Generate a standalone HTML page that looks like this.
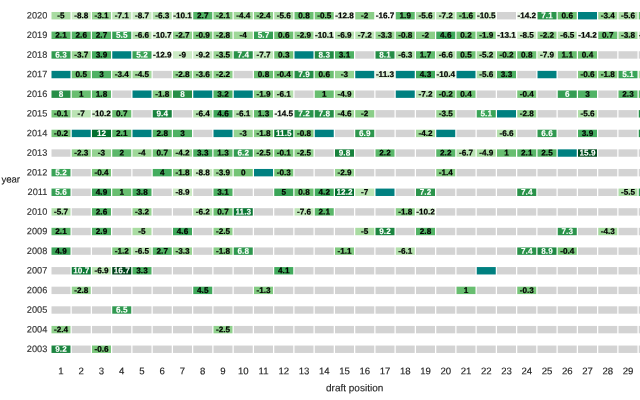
<!DOCTYPE html>
<html><head><meta charset="utf-8"><title>chart</title>
<style>
html,body{margin:0;padding:0;background:#fff;}
body{width:640px;height:400px;overflow:hidden;}
svg{display:block;will-change:transform;}
text{font-family:"Liberation Sans",sans-serif;}
.v{font-weight:bold;font-size:8.2px;text-anchor:middle;fill:#000;stroke:#000;stroke-width:0.2px;}
.w{fill:#fff;stroke:#fff;stroke-width:0.1px;}
.yl{font-size:9.2px;text-anchor:end;fill:#333333;stroke:#333333;stroke-width:0.15px;}
.xl{font-size:9.6px;text-anchor:middle;fill:#262626;stroke:#262626;stroke-width:0.15px;}
.ti{font-size:10.0px;fill:#222222;stroke:#222222;stroke-width:0.12px;}
.g{fill:#d3d3d3;}
.t{fill:#008080;}
</style></head><body>
<svg width="640" height="400" viewBox="0 0 640 400">
<rect x="0" y="0" width="640" height="400" fill="#ffffff"/>

<rect fill="#a9dca2" x="51.50" y="12.00" width="19" height="7.4"/>
<rect fill="#caeac3" x="71.75" y="12.00" width="19" height="7.4"/>
<rect fill="#95d491" x="92.00" y="12.00" width="19" height="7.4"/>
<rect fill="#bce4b5" x="112.25" y="12.00" width="19" height="7.4"/>
<rect fill="#caeac3" x="132.50" y="12.00" width="19" height="7.4"/>
<rect fill="#b4e1ae" x="152.75" y="12.00" width="19" height="7.4"/>
<rect fill="#d4eecd" x="173.00" y="12.00" width="19" height="7.4"/>
<rect fill="#53b466" x="193.25" y="12.00" width="19" height="7.4"/>
<rect fill="#8bcf89" x="213.50" y="12.00" width="19" height="7.4"/>
<rect fill="#a3da9d" x="233.75" y="12.00" width="19" height="7.4"/>
<rect fill="#8ed08b" x="254.00" y="12.00" width="19" height="7.4"/>
<rect fill="#aedea8" x="274.25" y="12.00" width="19" height="7.4"/>
<rect fill="#6abf71" x="294.50" y="12.00" width="19" height="7.4"/>
<rect fill="#79c77a" x="314.75" y="12.00" width="19" height="7.4"/>
<rect fill="#e6f5e1" x="335.00" y="12.00" width="19" height="7.4"/>
<rect fill="#8ace88" x="355.25" y="12.00" width="19" height="7.4"/>
<rect fill="#f7fcf5" x="375.50" y="12.00" width="19" height="7.4"/>
<rect fill="#5db96b" x="395.75" y="12.00" width="19" height="7.4"/>
<rect fill="#aedea8" x="416.00" y="12.00" width="19" height="7.4"/>
<rect fill="#bde5b6" x="436.25" y="12.00" width="19" height="7.4"/>
<rect fill="#85cc84" x="456.50" y="12.00" width="19" height="7.4"/>
<rect fill="#d6efd0" x="476.75" y="12.00" width="19" height="7.4"/>
<rect class="g" x="497.00" y="12.00" width="19" height="7.4"/>
<rect fill="#ecf8e8" x="517.25" y="12.00" width="19" height="7.4"/>
<rect fill="#2c954c" x="537.50" y="12.00" width="19" height="7.4"/>
<rect fill="#6dc072" x="557.75" y="12.00" width="19" height="7.4"/>
<rect class="t" x="578.00" y="12.00" width="19" height="7.4"/>
<rect fill="#99d594" x="598.25" y="12.00" width="19" height="7.4"/>
<rect fill="#aedea8" x="618.50" y="12.00" width="19" height="7.4"/>
<rect fill="#68be70" x="638.75" y="12.00" width="19" height="7.4"/>
<rect fill="#5ab769" x="51.50" y="31.62" width="19" height="7.4"/>
<rect fill="#54b466" x="71.75" y="31.62" width="19" height="7.4"/>
<rect fill="#53b466" x="92.00" y="31.62" width="19" height="7.4"/>
<rect fill="#37a155" x="112.25" y="31.62" width="19" height="7.4"/>
<rect fill="#b7e2b0" x="132.50" y="31.62" width="19" height="7.4"/>
<rect fill="#d8f0d2" x="152.75" y="31.62" width="19" height="7.4"/>
<rect fill="#91d28e" x="173.00" y="31.62" width="19" height="7.4"/>
<rect fill="#7ec97e" x="193.25" y="31.62" width="19" height="7.4"/>
<rect fill="#92d28f" x="213.50" y="31.62" width="19" height="7.4"/>
<rect fill="#9fd899" x="233.75" y="31.62" width="19" height="7.4"/>
<rect fill="#369f54" x="254.00" y="31.62" width="19" height="7.4"/>
<rect fill="#6dc072" x="274.25" y="31.62" width="19" height="7.4"/>
<rect fill="#93d390" x="294.50" y="31.62" width="19" height="7.4"/>
<rect fill="#d4eecd" x="314.75" y="31.62" width="19" height="7.4"/>
<rect fill="#bae3b3" x="335.00" y="31.62" width="19" height="7.4"/>
<rect fill="#bde5b6" x="355.25" y="31.62" width="19" height="7.4"/>
<rect fill="#98d593" x="375.50" y="31.62" width="19" height="7.4"/>
<rect fill="#7dc87d" x="395.75" y="31.62" width="19" height="7.4"/>
<rect fill="#8ace88" x="416.00" y="31.62" width="19" height="7.4"/>
<rect fill="#3ea85b" x="436.25" y="31.62" width="19" height="7.4"/>
<rect fill="#72c375" x="456.50" y="31.62" width="19" height="7.4"/>
<rect fill="#88ce87" x="476.75" y="31.62" width="19" height="7.4"/>
<rect fill="#e7f6e3" x="497.00" y="31.62" width="19" height="7.4"/>
<rect fill="#c8e9c1" x="517.25" y="31.62" width="19" height="7.4"/>
<rect fill="#8ccf89" x="537.50" y="31.62" width="19" height="7.4"/>
<rect fill="#b6e2b0" x="557.75" y="31.62" width="19" height="7.4"/>
<rect fill="#ecf8e8" x="578.00" y="31.62" width="19" height="7.4"/>
<rect fill="#6bc072" x="598.25" y="31.62" width="19" height="7.4"/>
<rect fill="#9dd798" x="618.50" y="31.62" width="19" height="7.4"/>
<rect fill="#d6efd0" x="638.75" y="31.62" width="19" height="7.4"/>
<rect fill="#329b51" x="51.50" y="51.24" width="19" height="7.4"/>
<rect fill="#9cd797" x="71.75" y="51.24" width="19" height="7.4"/>
<rect fill="#44ad5f" x="92.00" y="51.24" width="19" height="7.4"/>
<rect class="t" x="112.25" y="51.24" width="19" height="7.4"/>
<rect fill="#3aa357" x="132.50" y="51.24" width="19" height="7.4"/>
<rect fill="#e7f6e2" x="152.75" y="51.24" width="19" height="7.4"/>
<rect fill="#ccebc5" x="173.00" y="51.24" width="19" height="7.4"/>
<rect fill="#cdebc7" x="193.25" y="51.24" width="19" height="7.4"/>
<rect fill="#9ad695" x="213.50" y="51.24" width="19" height="7.4"/>
<rect fill="#2a924a" x="233.75" y="51.24" width="19" height="7.4"/>
<rect fill="#c1e7ba" x="254.00" y="51.24" width="19" height="7.4"/>
<rect fill="#70c274" x="274.25" y="51.24" width="19" height="7.4"/>
<rect class="t" x="294.50" y="51.24" width="19" height="7.4"/>
<rect fill="#238b45" x="314.75" y="51.24" width="19" height="7.4"/>
<rect fill="#4eb163" x="335.00" y="51.24" width="19" height="7.4"/>
<rect class="g" x="355.25" y="51.24" width="19" height="7.4"/>
<rect fill="#258d46" x="375.50" y="51.24" width="19" height="7.4"/>
<rect fill="#b4e1ae" x="395.75" y="51.24" width="19" height="7.4"/>
<rect fill="#5fba6c" x="416.00" y="51.24" width="19" height="7.4"/>
<rect fill="#b7e2b0" x="436.25" y="51.24" width="19" height="7.4"/>
<rect fill="#6ec173" x="456.50" y="51.24" width="19" height="7.4"/>
<rect fill="#aadda4" x="476.75" y="51.24" width="19" height="7.4"/>
<rect fill="#76c578" x="497.00" y="51.24" width="19" height="7.4"/>
<rect fill="#6abf71" x="517.25" y="51.24" width="19" height="7.4"/>
<rect fill="#c3e7bc" x="537.50" y="51.24" width="19" height="7.4"/>
<rect fill="#67bd6f" x="557.75" y="51.24" width="19" height="7.4"/>
<rect fill="#6fc274" x="578.00" y="51.24" width="19" height="7.4"/>
<rect class="g" x="598.25" y="51.24" width="19" height="7.4"/>
<rect class="g" x="618.50" y="51.24" width="19" height="7.4"/>
<rect class="g" x="638.75" y="51.24" width="19" height="7.4"/>
<rect class="t" x="51.50" y="70.86" width="19" height="7.4"/>
<rect fill="#6ec173" x="71.75" y="70.86" width="19" height="7.4"/>
<rect fill="#4fb264" x="92.00" y="70.86" width="19" height="7.4"/>
<rect fill="#99d594" x="112.25" y="70.86" width="19" height="7.4"/>
<rect fill="#a4da9e" x="132.50" y="70.86" width="19" height="7.4"/>
<rect class="g" x="152.75" y="70.86" width="19" height="7.4"/>
<rect fill="#92d28f" x="173.00" y="70.86" width="19" height="7.4"/>
<rect fill="#9bd696" x="193.25" y="70.86" width="19" height="7.4"/>
<rect fill="#8ccf89" x="213.50" y="70.86" width="19" height="7.4"/>
<rect class="g" x="233.75" y="70.86" width="19" height="7.4"/>
<rect fill="#6abf71" x="254.00" y="70.86" width="19" height="7.4"/>
<rect fill="#78c67a" x="274.25" y="70.86" width="19" height="7.4"/>
<rect fill="#268e48" x="294.50" y="70.86" width="19" height="7.4"/>
<rect fill="#6dc072" x="314.75" y="70.86" width="19" height="7.4"/>
<rect fill="#94d391" x="335.00" y="70.86" width="19" height="7.4"/>
<rect class="t" x="355.25" y="70.86" width="19" height="7.4"/>
<rect fill="#dcf1d7" x="375.50" y="70.86" width="19" height="7.4"/>
<rect class="t" x="395.75" y="70.86" width="19" height="7.4"/>
<rect fill="#40aa5c" x="416.00" y="70.86" width="19" height="7.4"/>
<rect fill="#d6efd0" x="436.25" y="70.86" width="19" height="7.4"/>
<rect class="t" x="456.50" y="70.86" width="19" height="7.4"/>
<rect fill="#aedea8" x="476.75" y="70.86" width="19" height="7.4"/>
<rect fill="#4cb062" x="497.00" y="70.86" width="19" height="7.4"/>
<rect class="g" x="517.25" y="70.86" width="19" height="7.4"/>
<rect class="t" x="537.50" y="70.86" width="19" height="7.4"/>
<rect class="g" x="557.75" y="70.86" width="19" height="7.4"/>
<rect fill="#7ac77b" x="578.00" y="70.86" width="19" height="7.4"/>
<rect fill="#87cd86" x="598.25" y="70.86" width="19" height="7.4"/>
<rect fill="#3aa458" x="618.50" y="70.86" width="19" height="7.4"/>
<rect fill="#a9dca2" x="638.75" y="70.86" width="19" height="7.4"/>
<rect fill="#268e47" x="51.50" y="90.48" width="19" height="7.4"/>
<rect fill="#68be70" x="71.75" y="90.48" width="19" height="7.4"/>
<rect fill="#5eb96b" x="92.00" y="90.48" width="19" height="7.4"/>
<rect class="g" x="112.25" y="90.48" width="19" height="7.4"/>
<rect class="t" x="132.50" y="90.48" width="19" height="7.4"/>
<rect fill="#87cd86" x="152.75" y="90.48" width="19" height="7.4"/>
<rect fill="#268e47" x="173.00" y="90.48" width="19" height="7.4"/>
<rect class="t" x="193.25" y="90.48" width="19" height="7.4"/>
<rect fill="#4db163" x="213.50" y="90.48" width="19" height="7.4"/>
<rect class="t" x="233.75" y="90.48" width="19" height="7.4"/>
<rect fill="#88ce87" x="254.00" y="90.48" width="19" height="7.4"/>
<rect fill="#b3e0ac" x="274.25" y="90.48" width="19" height="7.4"/>
<rect class="g" x="294.50" y="90.48" width="19" height="7.4"/>
<rect fill="#68be70" x="314.75" y="90.48" width="19" height="7.4"/>
<rect fill="#a8dca1" x="335.00" y="90.48" width="19" height="7.4"/>
<rect class="g" x="355.25" y="90.48" width="19" height="7.4"/>
<rect class="g" x="375.50" y="90.48" width="19" height="7.4"/>
<rect class="t" x="395.75" y="90.48" width="19" height="7.4"/>
<rect fill="#bde5b6" x="416.00" y="90.48" width="19" height="7.4"/>
<rect fill="#76c578" x="436.25" y="90.48" width="19" height="7.4"/>
<rect fill="#6fc274" x="456.50" y="90.48" width="19" height="7.4"/>
<rect class="g" x="476.75" y="90.48" width="19" height="7.4"/>
<rect class="g" x="497.00" y="90.48" width="19" height="7.4"/>
<rect fill="#78c67a" x="517.25" y="90.48" width="19" height="7.4"/>
<rect class="g" x="537.50" y="90.48" width="19" height="7.4"/>
<rect fill="#349d53" x="557.75" y="90.48" width="19" height="7.4"/>
<rect fill="#4fb264" x="578.00" y="90.48" width="19" height="7.4"/>
<rect class="g" x="598.25" y="90.48" width="19" height="7.4"/>
<rect fill="#58b668" x="618.50" y="90.48" width="19" height="7.4"/>
<rect fill="#5cb86a" x="638.75" y="90.48" width="19" height="7.4"/>
<rect fill="#75c577" x="51.50" y="110.10" width="19" height="7.4"/>
<rect fill="#bbe4b4" x="71.75" y="110.10" width="19" height="7.4"/>
<rect fill="#d4eece" x="92.00" y="110.10" width="19" height="7.4"/>
<rect fill="#6bc072" x="112.25" y="110.10" width="19" height="7.4"/>
<rect class="g" x="132.50" y="110.10" width="19" height="7.4"/>
<rect fill="#1a833f" x="152.75" y="110.10" width="19" height="7.4"/>
<rect class="g" x="173.00" y="110.10" width="19" height="7.4"/>
<rect fill="#b5e2af" x="193.25" y="110.10" width="19" height="7.4"/>
<rect fill="#3ea85b" x="213.50" y="110.10" width="19" height="7.4"/>
<rect fill="#b3e0ac" x="233.75" y="110.10" width="19" height="7.4"/>
<rect fill="#64bc6e" x="254.00" y="110.10" width="19" height="7.4"/>
<rect fill="#eef8ea" x="274.25" y="110.10" width="19" height="7.4"/>
<rect fill="#2b944c" x="294.50" y="110.10" width="19" height="7.4"/>
<rect fill="#278f48" x="314.75" y="110.10" width="19" height="7.4"/>
<rect fill="#a5db9f" x="335.00" y="110.10" width="19" height="7.4"/>
<rect fill="#8ace88" x="355.25" y="110.10" width="19" height="7.4"/>
<rect class="g" x="375.50" y="110.10" width="19" height="7.4"/>
<rect class="g" x="395.75" y="110.10" width="19" height="7.4"/>
<rect class="g" x="416.00" y="110.10" width="19" height="7.4"/>
<rect fill="#9ad695" x="436.25" y="110.10" width="19" height="7.4"/>
<rect class="g" x="456.50" y="110.10" width="19" height="7.4"/>
<rect fill="#3aa458" x="476.75" y="110.10" width="19" height="7.4"/>
<rect class="t" x="497.00" y="110.10" width="19" height="7.4"/>
<rect fill="#92d28f" x="517.25" y="110.10" width="19" height="7.4"/>
<rect class="g" x="537.50" y="110.10" width="19" height="7.4"/>
<rect class="g" x="557.75" y="110.10" width="19" height="7.4"/>
<rect fill="#aedea8" x="578.00" y="110.10" width="19" height="7.4"/>
<rect class="g" x="598.25" y="110.10" width="19" height="7.4"/>
<rect class="g" x="618.50" y="110.10" width="19" height="7.4"/>
<rect fill="#268e47" x="638.75" y="110.10" width="19" height="7.4"/>
<rect fill="#76c578" x="51.50" y="129.72" width="19" height="7.4"/>
<rect class="t" x="71.75" y="129.72" width="19" height="7.4"/>
<rect fill="#04712f" x="92.00" y="129.72" width="19" height="7.4"/>
<rect fill="#5ab769" x="112.25" y="129.72" width="19" height="7.4"/>
<rect class="t" x="132.50" y="129.72" width="19" height="7.4"/>
<rect fill="#52b365" x="152.75" y="129.72" width="19" height="7.4"/>
<rect fill="#4fb264" x="173.00" y="129.72" width="19" height="7.4"/>
<rect class="g" x="193.25" y="129.72" width="19" height="7.4"/>
<rect class="t" x="213.50" y="129.72" width="19" height="7.4"/>
<rect fill="#94d391" x="233.75" y="129.72" width="19" height="7.4"/>
<rect fill="#87cd86" x="254.00" y="129.72" width="19" height="7.4"/>
<rect fill="#097432" x="274.25" y="129.72" width="19" height="7.4"/>
<rect fill="#7dc87d" x="294.50" y="129.72" width="19" height="7.4"/>
<rect class="t" x="314.75" y="129.72" width="19" height="7.4"/>
<rect class="g" x="335.00" y="129.72" width="19" height="7.4"/>
<rect fill="#2d964d" x="355.25" y="129.72" width="19" height="7.4"/>
<rect class="g" x="375.50" y="129.72" width="19" height="7.4"/>
<rect class="g" x="395.75" y="129.72" width="19" height="7.4"/>
<rect fill="#a1d99b" x="416.00" y="129.72" width="19" height="7.4"/>
<rect class="t" x="436.25" y="129.72" width="19" height="7.4"/>
<rect class="g" x="456.50" y="129.72" width="19" height="7.4"/>
<rect class="g" x="476.75" y="129.72" width="19" height="7.4"/>
<rect fill="#b7e2b0" x="497.00" y="129.72" width="19" height="7.4"/>
<rect class="g" x="517.25" y="129.72" width="19" height="7.4"/>
<rect fill="#30984f" x="537.50" y="129.72" width="19" height="7.4"/>
<rect class="g" x="557.75" y="129.72" width="19" height="7.4"/>
<rect fill="#44ad5f" x="578.00" y="129.72" width="19" height="7.4"/>
<rect class="g" x="598.25" y="129.72" width="19" height="7.4"/>
<rect class="g" x="618.50" y="129.72" width="19" height="7.4"/>
<rect fill="#268e47" x="638.75" y="129.72" width="19" height="7.4"/>
<rect class="g" x="51.50" y="149.34" width="19" height="7.4"/>
<rect fill="#8dd08a" x="71.75" y="149.34" width="19" height="7.4"/>
<rect fill="#94d391" x="92.00" y="149.34" width="19" height="7.4"/>
<rect fill="#5cb86a" x="112.25" y="149.34" width="19" height="7.4"/>
<rect fill="#9fd899" x="132.50" y="149.34" width="19" height="7.4"/>
<rect fill="#6bc072" x="152.75" y="149.34" width="19" height="7.4"/>
<rect fill="#a1d99b" x="173.00" y="149.34" width="19" height="7.4"/>
<rect fill="#4cb062" x="193.25" y="149.34" width="19" height="7.4"/>
<rect fill="#64bc6e" x="213.50" y="149.34" width="19" height="7.4"/>
<rect fill="#329b51" x="233.75" y="149.34" width="19" height="7.4"/>
<rect fill="#8fd18c" x="254.00" y="149.34" width="19" height="7.4"/>
<rect fill="#75c577" x="274.25" y="149.34" width="19" height="7.4"/>
<rect fill="#8fd18c" x="294.50" y="149.34" width="19" height="7.4"/>
<rect class="g" x="314.75" y="149.34" width="19" height="7.4"/>
<rect fill="#17813c" x="335.00" y="149.34" width="19" height="7.4"/>
<rect class="g" x="355.25" y="149.34" width="19" height="7.4"/>
<rect fill="#59b769" x="375.50" y="149.34" width="19" height="7.4"/>
<rect class="g" x="395.75" y="149.34" width="19" height="7.4"/>
<rect class="g" x="416.00" y="149.34" width="19" height="7.4"/>
<rect fill="#59b769" x="436.25" y="149.34" width="19" height="7.4"/>
<rect fill="#b8e3b1" x="456.50" y="149.34" width="19" height="7.4"/>
<rect fill="#a8dca1" x="476.75" y="149.34" width="19" height="7.4"/>
<rect fill="#68be70" x="497.00" y="149.34" width="19" height="7.4"/>
<rect fill="#5ab769" x="517.25" y="149.34" width="19" height="7.4"/>
<rect fill="#55b567" x="537.50" y="149.34" width="19" height="7.4"/>
<rect class="t" x="557.75" y="149.34" width="19" height="7.4"/>
<rect fill="#004c1e" x="578.00" y="149.34" width="19" height="7.4"/>
<rect class="g" x="598.25" y="149.34" width="19" height="7.4"/>
<rect class="g" x="618.50" y="149.34" width="19" height="7.4"/>
<rect class="g" x="638.75" y="149.34" width="19" height="7.4"/>
<rect fill="#3aa357" x="51.50" y="168.96" width="19" height="7.4"/>
<rect class="g" x="71.75" y="168.96" width="19" height="7.4"/>
<rect fill="#78c67a" x="92.00" y="168.96" width="19" height="7.4"/>
<rect class="g" x="112.25" y="168.96" width="19" height="7.4"/>
<rect class="g" x="132.50" y="168.96" width="19" height="7.4"/>
<rect fill="#43ac5e" x="152.75" y="168.96" width="19" height="7.4"/>
<rect fill="#87cd86" x="173.00" y="168.96" width="19" height="7.4"/>
<rect fill="#caeac3" x="193.25" y="168.96" width="19" height="7.4"/>
<rect fill="#9ed899" x="213.50" y="168.96" width="19" height="7.4"/>
<rect fill="#74c476" x="233.75" y="168.96" width="19" height="7.4"/>
<rect class="t" x="254.00" y="168.96" width="19" height="7.4"/>
<rect fill="#77c679" x="274.25" y="168.96" width="19" height="7.4"/>
<rect class="g" x="294.50" y="168.96" width="19" height="7.4"/>
<rect class="g" x="314.75" y="168.96" width="19" height="7.4"/>
<rect fill="#93d390" x="335.00" y="168.96" width="19" height="7.4"/>
<rect class="g" x="355.25" y="168.96" width="19" height="7.4"/>
<rect class="g" x="375.50" y="168.96" width="19" height="7.4"/>
<rect class="g" x="395.75" y="168.96" width="19" height="7.4"/>
<rect class="g" x="416.00" y="168.96" width="19" height="7.4"/>
<rect fill="#83cb82" x="436.25" y="168.96" width="19" height="7.4"/>
<rect class="g" x="456.50" y="168.96" width="19" height="7.4"/>
<rect class="g" x="476.75" y="168.96" width="19" height="7.4"/>
<rect class="g" x="497.00" y="168.96" width="19" height="7.4"/>
<rect class="g" x="517.25" y="168.96" width="19" height="7.4"/>
<rect class="g" x="537.50" y="168.96" width="19" height="7.4"/>
<rect class="g" x="557.75" y="168.96" width="19" height="7.4"/>
<rect class="g" x="578.00" y="168.96" width="19" height="7.4"/>
<rect class="g" x="598.25" y="168.96" width="19" height="7.4"/>
<rect class="g" x="618.50" y="168.96" width="19" height="7.4"/>
<rect class="g" x="638.75" y="168.96" width="19" height="7.4"/>
<rect fill="#37a055" x="51.50" y="188.58" width="19" height="7.4"/>
<rect class="g" x="71.75" y="188.58" width="19" height="7.4"/>
<rect fill="#3ca559" x="92.00" y="188.58" width="19" height="7.4"/>
<rect fill="#68be70" x="112.25" y="188.58" width="19" height="7.4"/>
<rect fill="#46ad5f" x="132.50" y="188.58" width="19" height="7.4"/>
<rect class="g" x="152.75" y="188.58" width="19" height="7.4"/>
<rect fill="#cbebc4" x="173.00" y="188.58" width="19" height="7.4"/>
<rect class="g" x="193.25" y="188.58" width="19" height="7.4"/>
<rect fill="#4eb163" x="213.50" y="188.58" width="19" height="7.4"/>
<rect class="g" x="233.75" y="188.58" width="19" height="7.4"/>
<rect class="g" x="254.00" y="188.58" width="19" height="7.4"/>
<rect fill="#3ba558" x="274.25" y="188.58" width="19" height="7.4"/>
<rect fill="#6abf71" x="294.50" y="188.58" width="19" height="7.4"/>
<rect fill="#41ab5d" x="314.75" y="188.58" width="19" height="7.4"/>
<rect fill="#036f2e" x="335.00" y="188.58" width="19" height="7.4"/>
<rect fill="#bbe4b4" x="355.25" y="188.58" width="19" height="7.4"/>
<rect class="t" x="375.50" y="188.58" width="19" height="7.4"/>
<rect class="g" x="395.75" y="188.58" width="19" height="7.4"/>
<rect fill="#2b944c" x="416.00" y="188.58" width="19" height="7.4"/>
<rect class="g" x="436.25" y="188.58" width="19" height="7.4"/>
<rect class="g" x="456.50" y="188.58" width="19" height="7.4"/>
<rect class="g" x="476.75" y="188.58" width="19" height="7.4"/>
<rect class="g" x="497.00" y="188.58" width="19" height="7.4"/>
<rect fill="#2a924a" x="517.25" y="188.58" width="19" height="7.4"/>
<rect class="g" x="537.50" y="188.58" width="19" height="7.4"/>
<rect class="g" x="557.75" y="188.58" width="19" height="7.4"/>
<rect class="g" x="578.00" y="188.58" width="19" height="7.4"/>
<rect class="g" x="598.25" y="188.58" width="19" height="7.4"/>
<rect fill="#addea7" x="618.50" y="188.58" width="19" height="7.4"/>
<rect fill="#349d53" x="638.75" y="188.58" width="19" height="7.4"/>
<rect fill="#afdfa9" x="51.50" y="208.20" width="19" height="7.4"/>
<rect class="g" x="71.75" y="208.20" width="19" height="7.4"/>
<rect fill="#54b466" x="92.00" y="208.20" width="19" height="7.4"/>
<rect class="g" x="112.25" y="208.20" width="19" height="7.4"/>
<rect fill="#96d492" x="132.50" y="208.20" width="19" height="7.4"/>
<rect class="g" x="152.75" y="208.20" width="19" height="7.4"/>
<rect class="g" x="173.00" y="208.20" width="19" height="7.4"/>
<rect fill="#b3e1ad" x="193.25" y="208.20" width="19" height="7.4"/>
<rect fill="#6bc072" x="213.50" y="208.20" width="19" height="7.4"/>
<rect fill="#0a7633" x="233.75" y="208.20" width="19" height="7.4"/>
<rect class="g" x="254.00" y="208.20" width="19" height="7.4"/>
<rect class="g" x="274.25" y="208.20" width="19" height="7.4"/>
<rect fill="#c0e6b9" x="294.50" y="208.20" width="19" height="7.4"/>
<rect fill="#5ab769" x="314.75" y="208.20" width="19" height="7.4"/>
<rect class="g" x="335.00" y="208.20" width="19" height="7.4"/>
<rect class="g" x="355.25" y="208.20" width="19" height="7.4"/>
<rect class="g" x="375.50" y="208.20" width="19" height="7.4"/>
<rect fill="#87cd86" x="395.75" y="208.20" width="19" height="7.4"/>
<rect fill="#d4eece" x="416.00" y="208.20" width="19" height="7.4"/>
<rect class="g" x="436.25" y="208.20" width="19" height="7.4"/>
<rect class="g" x="456.50" y="208.20" width="19" height="7.4"/>
<rect class="g" x="476.75" y="208.20" width="19" height="7.4"/>
<rect class="g" x="497.00" y="208.20" width="19" height="7.4"/>
<rect class="g" x="517.25" y="208.20" width="19" height="7.4"/>
<rect class="g" x="537.50" y="208.20" width="19" height="7.4"/>
<rect class="g" x="557.75" y="208.20" width="19" height="7.4"/>
<rect class="g" x="578.00" y="208.20" width="19" height="7.4"/>
<rect class="g" x="598.25" y="208.20" width="19" height="7.4"/>
<rect class="g" x="618.50" y="208.20" width="19" height="7.4"/>
<rect class="g" x="638.75" y="208.20" width="19" height="7.4"/>
<rect fill="#5ab769" x="51.50" y="227.82" width="19" height="7.4"/>
<rect class="g" x="71.75" y="227.82" width="19" height="7.4"/>
<rect fill="#51b365" x="92.00" y="227.82" width="19" height="7.4"/>
<rect class="g" x="112.25" y="227.82" width="19" height="7.4"/>
<rect fill="#a9dca2" x="132.50" y="227.82" width="19" height="7.4"/>
<rect class="g" x="152.75" y="227.82" width="19" height="7.4"/>
<rect fill="#3ea85b" x="173.00" y="227.82" width="19" height="7.4"/>
<rect class="g" x="193.25" y="227.82" width="19" height="7.4"/>
<rect fill="#8fd18c" x="213.50" y="227.82" width="19" height="7.4"/>
<rect class="g" x="233.75" y="227.82" width="19" height="7.4"/>
<rect class="g" x="254.00" y="227.82" width="19" height="7.4"/>
<rect class="g" x="274.25" y="227.82" width="19" height="7.4"/>
<rect class="g" x="294.50" y="227.82" width="19" height="7.4"/>
<rect class="g" x="314.75" y="227.82" width="19" height="7.4"/>
<rect class="g" x="335.00" y="227.82" width="19" height="7.4"/>
<rect fill="#a9dca2" x="355.25" y="227.82" width="19" height="7.4"/>
<rect fill="#1c8540" x="375.50" y="227.82" width="19" height="7.4"/>
<rect class="g" x="395.75" y="227.82" width="19" height="7.4"/>
<rect fill="#52b365" x="416.00" y="227.82" width="19" height="7.4"/>
<rect class="g" x="436.25" y="227.82" width="19" height="7.4"/>
<rect class="g" x="456.50" y="227.82" width="19" height="7.4"/>
<rect class="g" x="476.75" y="227.82" width="19" height="7.4"/>
<rect class="g" x="497.00" y="227.82" width="19" height="7.4"/>
<rect class="g" x="517.25" y="227.82" width="19" height="7.4"/>
<rect class="g" x="537.50" y="227.82" width="19" height="7.4"/>
<rect fill="#2b934b" x="557.75" y="227.82" width="19" height="7.4"/>
<rect class="g" x="578.00" y="227.82" width="19" height="7.4"/>
<rect fill="#a2d99c" x="598.25" y="227.82" width="19" height="7.4"/>
<rect class="g" x="618.50" y="227.82" width="19" height="7.4"/>
<rect class="g" x="638.75" y="227.82" width="19" height="7.4"/>
<rect fill="#3ca559" x="51.50" y="247.44" width="19" height="7.4"/>
<rect class="g" x="71.75" y="247.44" width="19" height="7.4"/>
<rect class="g" x="92.00" y="247.44" width="19" height="7.4"/>
<rect fill="#81ca81" x="112.25" y="247.44" width="19" height="7.4"/>
<rect fill="#b6e2b0" x="132.50" y="247.44" width="19" height="7.4"/>
<rect fill="#53b466" x="152.75" y="247.44" width="19" height="7.4"/>
<rect fill="#98d593" x="173.00" y="247.44" width="19" height="7.4"/>
<rect class="g" x="193.25" y="247.44" width="19" height="7.4"/>
<rect fill="#87cd86" x="213.50" y="247.44" width="19" height="7.4"/>
<rect fill="#2e974e" x="233.75" y="247.44" width="19" height="7.4"/>
<rect class="g" x="254.00" y="247.44" width="19" height="7.4"/>
<rect class="g" x="274.25" y="247.44" width="19" height="7.4"/>
<rect class="g" x="294.50" y="247.44" width="19" height="7.4"/>
<rect class="g" x="314.75" y="247.44" width="19" height="7.4"/>
<rect fill="#80ca80" x="335.00" y="247.44" width="19" height="7.4"/>
<rect class="g" x="355.25" y="247.44" width="19" height="7.4"/>
<rect class="g" x="375.50" y="247.44" width="19" height="7.4"/>
<rect fill="#b3e0ac" x="395.75" y="247.44" width="19" height="7.4"/>
<rect class="g" x="416.00" y="247.44" width="19" height="7.4"/>
<rect class="g" x="436.25" y="247.44" width="19" height="7.4"/>
<rect class="g" x="456.50" y="247.44" width="19" height="7.4"/>
<rect class="g" x="476.75" y="247.44" width="19" height="7.4"/>
<rect class="g" x="497.00" y="247.44" width="19" height="7.4"/>
<rect fill="#2a924a" x="517.25" y="247.44" width="19" height="7.4"/>
<rect fill="#1e8742" x="537.50" y="247.44" width="19" height="7.4"/>
<rect fill="#78c67a" x="557.75" y="247.44" width="19" height="7.4"/>
<rect class="g" x="578.00" y="247.44" width="19" height="7.4"/>
<rect class="g" x="598.25" y="247.44" width="19" height="7.4"/>
<rect class="g" x="618.50" y="247.44" width="19" height="7.4"/>
<rect class="g" x="638.75" y="247.44" width="19" height="7.4"/>
<rect class="g" x="51.50" y="267.06" width="19" height="7.4"/>
<rect fill="#0f7a37" x="71.75" y="267.06" width="19" height="7.4"/>
<rect fill="#bae3b3" x="92.00" y="267.06" width="19" height="7.4"/>
<rect fill="#00441b" x="112.25" y="267.06" width="19" height="7.4"/>
<rect fill="#4cb062" x="132.50" y="267.06" width="19" height="7.4"/>
<rect class="g" x="152.75" y="267.06" width="19" height="7.4"/>
<rect class="g" x="173.00" y="267.06" width="19" height="7.4"/>
<rect class="g" x="193.25" y="267.06" width="19" height="7.4"/>
<rect class="g" x="213.50" y="267.06" width="19" height="7.4"/>
<rect class="g" x="233.75" y="267.06" width="19" height="7.4"/>
<rect class="g" x="254.00" y="267.06" width="19" height="7.4"/>
<rect fill="#42ab5d" x="274.25" y="267.06" width="19" height="7.4"/>
<rect class="g" x="294.50" y="267.06" width="19" height="7.4"/>
<rect class="g" x="314.75" y="267.06" width="19" height="7.4"/>
<rect class="g" x="335.00" y="267.06" width="19" height="7.4"/>
<rect class="g" x="355.25" y="267.06" width="19" height="7.4"/>
<rect class="g" x="375.50" y="267.06" width="19" height="7.4"/>
<rect class="g" x="395.75" y="267.06" width="19" height="7.4"/>
<rect class="g" x="416.00" y="267.06" width="19" height="7.4"/>
<rect class="g" x="436.25" y="267.06" width="19" height="7.4"/>
<rect class="g" x="456.50" y="267.06" width="19" height="7.4"/>
<rect class="t" x="476.75" y="267.06" width="19" height="7.4"/>
<rect class="g" x="497.00" y="267.06" width="19" height="7.4"/>
<rect class="g" x="517.25" y="267.06" width="19" height="7.4"/>
<rect class="g" x="537.50" y="267.06" width="19" height="7.4"/>
<rect class="g" x="557.75" y="267.06" width="19" height="7.4"/>
<rect class="g" x="578.00" y="267.06" width="19" height="7.4"/>
<rect class="g" x="598.25" y="267.06" width="19" height="7.4"/>
<rect class="g" x="618.50" y="267.06" width="19" height="7.4"/>
<rect class="g" x="638.75" y="267.06" width="19" height="7.4"/>
<rect class="g" x="51.50" y="286.68" width="19" height="7.4"/>
<rect fill="#92d28f" x="71.75" y="286.68" width="19" height="7.4"/>
<rect class="g" x="92.00" y="286.68" width="19" height="7.4"/>
<rect class="g" x="112.25" y="286.68" width="19" height="7.4"/>
<rect class="g" x="132.50" y="286.68" width="19" height="7.4"/>
<rect class="g" x="152.75" y="286.68" width="19" height="7.4"/>
<rect class="g" x="173.00" y="286.68" width="19" height="7.4"/>
<rect fill="#3fa95b" x="193.25" y="286.68" width="19" height="7.4"/>
<rect class="g" x="213.50" y="286.68" width="19" height="7.4"/>
<rect class="g" x="233.75" y="286.68" width="19" height="7.4"/>
<rect fill="#82cb82" x="254.00" y="286.68" width="19" height="7.4"/>
<rect class="g" x="274.25" y="286.68" width="19" height="7.4"/>
<rect class="g" x="294.50" y="286.68" width="19" height="7.4"/>
<rect class="g" x="314.75" y="286.68" width="19" height="7.4"/>
<rect class="g" x="335.00" y="286.68" width="19" height="7.4"/>
<rect class="g" x="355.25" y="286.68" width="19" height="7.4"/>
<rect class="g" x="375.50" y="286.68" width="19" height="7.4"/>
<rect class="g" x="395.75" y="286.68" width="19" height="7.4"/>
<rect class="g" x="416.00" y="286.68" width="19" height="7.4"/>
<rect class="g" x="436.25" y="286.68" width="19" height="7.4"/>
<rect fill="#68be70" x="456.50" y="286.68" width="19" height="7.4"/>
<rect class="g" x="476.75" y="286.68" width="19" height="7.4"/>
<rect class="g" x="497.00" y="286.68" width="19" height="7.4"/>
<rect fill="#77c679" x="517.25" y="286.68" width="19" height="7.4"/>
<rect class="g" x="537.50" y="286.68" width="19" height="7.4"/>
<rect class="g" x="557.75" y="286.68" width="19" height="7.4"/>
<rect class="g" x="578.00" y="286.68" width="19" height="7.4"/>
<rect class="g" x="598.25" y="286.68" width="19" height="7.4"/>
<rect class="g" x="618.50" y="286.68" width="19" height="7.4"/>
<rect class="g" x="638.75" y="286.68" width="19" height="7.4"/>
<rect class="g" x="51.50" y="306.30" width="19" height="7.4"/>
<rect class="g" x="71.75" y="306.30" width="19" height="7.4"/>
<rect class="g" x="92.00" y="306.30" width="19" height="7.4"/>
<rect fill="#309950" x="112.25" y="306.30" width="19" height="7.4"/>
<rect class="g" x="132.50" y="306.30" width="19" height="7.4"/>
<rect class="g" x="152.75" y="306.30" width="19" height="7.4"/>
<rect class="g" x="173.00" y="306.30" width="19" height="7.4"/>
<rect class="g" x="193.25" y="306.30" width="19" height="7.4"/>
<rect class="g" x="213.50" y="306.30" width="19" height="7.4"/>
<rect class="g" x="233.75" y="306.30" width="19" height="7.4"/>
<rect class="g" x="254.00" y="306.30" width="19" height="7.4"/>
<rect class="g" x="274.25" y="306.30" width="19" height="7.4"/>
<rect class="g" x="294.50" y="306.30" width="19" height="7.4"/>
<rect class="g" x="314.75" y="306.30" width="19" height="7.4"/>
<rect class="g" x="335.00" y="306.30" width="19" height="7.4"/>
<rect class="g" x="355.25" y="306.30" width="19" height="7.4"/>
<rect class="g" x="375.50" y="306.30" width="19" height="7.4"/>
<rect class="g" x="395.75" y="306.30" width="19" height="7.4"/>
<rect class="g" x="416.00" y="306.30" width="19" height="7.4"/>
<rect class="g" x="436.25" y="306.30" width="19" height="7.4"/>
<rect class="g" x="456.50" y="306.30" width="19" height="7.4"/>
<rect class="g" x="476.75" y="306.30" width="19" height="7.4"/>
<rect class="g" x="497.00" y="306.30" width="19" height="7.4"/>
<rect class="g" x="517.25" y="306.30" width="19" height="7.4"/>
<rect class="g" x="537.50" y="306.30" width="19" height="7.4"/>
<rect class="g" x="557.75" y="306.30" width="19" height="7.4"/>
<rect class="g" x="578.00" y="306.30" width="19" height="7.4"/>
<rect class="g" x="598.25" y="306.30" width="19" height="7.4"/>
<rect class="g" x="618.50" y="306.30" width="19" height="7.4"/>
<rect class="g" x="638.75" y="306.30" width="19" height="7.4"/>
<rect fill="#8ed08b" x="51.50" y="325.92" width="19" height="7.4"/>
<rect class="g" x="71.75" y="325.92" width="19" height="7.4"/>
<rect class="g" x="92.00" y="325.92" width="19" height="7.4"/>
<rect class="g" x="112.25" y="325.92" width="19" height="7.4"/>
<rect class="g" x="132.50" y="325.92" width="19" height="7.4"/>
<rect class="g" x="152.75" y="325.92" width="19" height="7.4"/>
<rect class="g" x="173.00" y="325.92" width="19" height="7.4"/>
<rect class="g" x="193.25" y="325.92" width="19" height="7.4"/>
<rect fill="#8fd18c" x="213.50" y="325.92" width="19" height="7.4"/>
<rect class="g" x="233.75" y="325.92" width="19" height="7.4"/>
<rect class="g" x="254.00" y="325.92" width="19" height="7.4"/>
<rect class="g" x="274.25" y="325.92" width="19" height="7.4"/>
<rect class="g" x="294.50" y="325.92" width="19" height="7.4"/>
<rect class="g" x="314.75" y="325.92" width="19" height="7.4"/>
<rect class="g" x="335.00" y="325.92" width="19" height="7.4"/>
<rect class="g" x="355.25" y="325.92" width="19" height="7.4"/>
<rect class="g" x="375.50" y="325.92" width="19" height="7.4"/>
<rect class="g" x="395.75" y="325.92" width="19" height="7.4"/>
<rect class="g" x="416.00" y="325.92" width="19" height="7.4"/>
<rect class="g" x="436.25" y="325.92" width="19" height="7.4"/>
<rect class="g" x="456.50" y="325.92" width="19" height="7.4"/>
<rect class="g" x="476.75" y="325.92" width="19" height="7.4"/>
<rect class="g" x="497.00" y="325.92" width="19" height="7.4"/>
<rect class="g" x="517.25" y="325.92" width="19" height="7.4"/>
<rect class="g" x="537.50" y="325.92" width="19" height="7.4"/>
<rect class="g" x="557.75" y="325.92" width="19" height="7.4"/>
<rect class="g" x="578.00" y="325.92" width="19" height="7.4"/>
<rect class="g" x="598.25" y="325.92" width="19" height="7.4"/>
<rect class="g" x="618.50" y="325.92" width="19" height="7.4"/>
<rect class="g" x="638.75" y="325.92" width="19" height="7.4"/>
<rect fill="#1c8540" x="51.50" y="345.54" width="19" height="7.4"/>
<rect class="g" x="71.75" y="345.54" width="19" height="7.4"/>
<rect fill="#7ac77b" x="92.00" y="345.54" width="19" height="7.4"/>
<rect class="g" x="112.25" y="345.54" width="19" height="7.4"/>
<rect class="g" x="132.50" y="345.54" width="19" height="7.4"/>
<rect class="g" x="152.75" y="345.54" width="19" height="7.4"/>
<rect class="g" x="173.00" y="345.54" width="19" height="7.4"/>
<rect class="g" x="193.25" y="345.54" width="19" height="7.4"/>
<rect class="g" x="213.50" y="345.54" width="19" height="7.4"/>
<rect class="g" x="233.75" y="345.54" width="19" height="7.4"/>
<rect class="g" x="254.00" y="345.54" width="19" height="7.4"/>
<rect class="g" x="274.25" y="345.54" width="19" height="7.4"/>
<rect class="g" x="294.50" y="345.54" width="19" height="7.4"/>
<rect class="g" x="314.75" y="345.54" width="19" height="7.4"/>
<rect class="g" x="335.00" y="345.54" width="19" height="7.4"/>
<rect class="g" x="355.25" y="345.54" width="19" height="7.4"/>
<rect class="g" x="375.50" y="345.54" width="19" height="7.4"/>
<rect class="g" x="395.75" y="345.54" width="19" height="7.4"/>
<rect class="g" x="416.00" y="345.54" width="19" height="7.4"/>
<rect class="g" x="436.25" y="345.54" width="19" height="7.4"/>
<rect class="g" x="456.50" y="345.54" width="19" height="7.4"/>
<rect class="g" x="476.75" y="345.54" width="19" height="7.4"/>
<rect class="g" x="497.00" y="345.54" width="19" height="7.4"/>
<rect class="g" x="517.25" y="345.54" width="19" height="7.4"/>
<rect class="g" x="537.50" y="345.54" width="19" height="7.4"/>
<rect class="g" x="557.75" y="345.54" width="19" height="7.4"/>
<rect class="g" x="578.00" y="345.54" width="19" height="7.4"/>
<rect class="g" x="598.25" y="345.54" width="19" height="7.4"/>
<rect class="g" x="618.50" y="345.54" width="19" height="7.4"/>
<rect class="g" x="638.75" y="345.54" width="19" height="7.4"/>
<g transform="matrix(1 0.0005 0 1 0 0)">
<text class="yl" x="47.30" y="18.470">2020</text>
<text class="yl" x="47.30" y="38.090">2019</text>
<text class="yl" x="47.30" y="57.710">2018</text>
<text class="yl" x="47.30" y="77.330">2017</text>
<text class="yl" x="47.30" y="96.950">2016</text>
<text class="yl" x="47.30" y="116.570">2015</text>
<text class="yl" x="47.30" y="136.190">2014</text>
<text class="yl" x="47.30" y="155.810">2013</text>
<text class="yl" x="47.30" y="175.430">2012</text>
<text class="yl" x="47.30" y="195.050">2011</text>
<text class="yl" x="47.30" y="214.670">2010</text>
<text class="yl" x="47.30" y="234.290">2009</text>
<text class="yl" x="47.30" y="253.910">2008</text>
<text class="yl" x="47.30" y="273.530">2007</text>
<text class="yl" x="47.30" y="293.150">2006</text>
<text class="yl" x="47.30" y="312.770">2005</text>
<text class="yl" x="47.30" y="332.390">2004</text>
<text class="yl" x="47.30" y="352.010">2003</text>
<text class="xl" x="61.00" y="374.169">1</text>
<text class="xl" x="81.25" y="374.159">2</text>
<text class="xl" x="101.50" y="374.149">3</text>
<text class="xl" x="121.75" y="374.139">4</text>
<text class="xl" x="142.00" y="374.129">5</text>
<text class="xl" x="162.25" y="374.119">6</text>
<text class="xl" x="182.50" y="374.109">7</text>
<text class="xl" x="202.75" y="374.099">8</text>
<text class="xl" x="223.00" y="374.089">9</text>
<text class="xl" x="243.25" y="374.078">10</text>
<text class="xl" x="263.50" y="374.068">11</text>
<text class="xl" x="283.75" y="374.058">12</text>
<text class="xl" x="304.00" y="374.048">13</text>
<text class="xl" x="324.25" y="374.038">14</text>
<text class="xl" x="344.50" y="374.028">15</text>
<text class="xl" x="364.75" y="374.018">16</text>
<text class="xl" x="385.00" y="374.007">17</text>
<text class="xl" x="405.25" y="373.997">18</text>
<text class="xl" x="425.50" y="373.987">19</text>
<text class="xl" x="445.75" y="373.977">20</text>
<text class="xl" x="466.00" y="373.967">21</text>
<text class="xl" x="486.25" y="373.957">22</text>
<text class="xl" x="506.50" y="373.947">23</text>
<text class="xl" x="526.75" y="373.937">24</text>
<text class="xl" x="547.00" y="373.926">25</text>
<text class="xl" x="567.25" y="373.916">26</text>
<text class="xl" x="587.50" y="373.906">27</text>
<text class="xl" x="607.75" y="373.896">28</text>
<text class="xl" x="628.00" y="373.886">29</text>
<text class="ti" style="font-size:9.6px" x="1.40" y="182.499">year</text>
<text class="ti" x="326.00" y="391.037">draft position</text>
</g>
<g transform="matrix(1.0 0.0005 0 1 0 0)">
<text class="v" x="61.00" y="18.205">-5</text>
<text class="v" x="81.25" y="18.195">-8.8</text>
<text class="v" x="101.50" y="18.185">-3.1</text>
<text class="v" x="121.75" y="18.175">-7.1</text>
<text class="v" x="142.00" y="18.165">-8.7</text>
<text class="v" x="162.25" y="18.154">-6.3</text>
<text class="v" x="182.50" y="18.144">-10.1</text>
<text class="v" x="202.75" y="18.134">2.7</text>
<text class="v" x="223.00" y="18.124">-2.1</text>
<text class="v" x="243.25" y="18.114">-4.4</text>
<text class="v" x="263.50" y="18.104">-2.4</text>
<text class="v" x="283.75" y="18.094">-5.6</text>
<text class="v" x="304.00" y="18.084">0.8</text>
<text class="v" x="324.25" y="18.073">-0.5</text>
<text class="v" x="344.50" y="18.063">-12.8</text>
<text class="v" x="364.75" y="18.053">-2</text>
<text class="v" x="385.00" y="18.043">-16.7</text>
<text class="v" x="405.25" y="18.033">1.9</text>
<text class="v" x="425.50" y="18.023">-5.6</text>
<text class="v" x="445.75" y="18.013">-7.2</text>
<text class="v" x="466.00" y="18.003">-1.6</text>
<text class="v" x="486.25" y="17.992">-10.5</text>
<text class="v" x="526.75" y="17.972">-14.2</text>
<text class="v w" x="547.00" y="17.962">7.1</text>
<text class="v" x="567.25" y="17.952">0.6</text>
<text class="v" x="607.75" y="17.932">-3.4</text>
<text class="v" x="628.00" y="17.922">-5.6</text>
<text class="v" x="61.00" y="37.825">2.1</text>
<text class="v" x="81.25" y="37.815">2.6</text>
<text class="v" x="101.50" y="37.805">2.7</text>
<text class="v w" x="121.75" y="37.795">5.5</text>
<text class="v" x="142.00" y="37.785">-6.6</text>
<text class="v" x="162.25" y="37.774">-10.7</text>
<text class="v" x="182.50" y="37.764">-2.7</text>
<text class="v" x="202.75" y="37.754">-0.9</text>
<text class="v" x="223.00" y="37.744">-2.8</text>
<text class="v" x="243.25" y="37.734">-4</text>
<text class="v w" x="263.50" y="37.724">5.7</text>
<text class="v" x="283.75" y="37.714">0.6</text>
<text class="v" x="304.00" y="37.704">-2.9</text>
<text class="v" x="324.25" y="37.693">-10.1</text>
<text class="v" x="344.50" y="37.683">-6.9</text>
<text class="v" x="364.75" y="37.673">-7.2</text>
<text class="v" x="385.00" y="37.663">-3.3</text>
<text class="v" x="405.25" y="37.653">-0.8</text>
<text class="v" x="425.50" y="37.643">-2</text>
<text class="v" x="445.75" y="37.633">4.6</text>
<text class="v" x="466.00" y="37.623">0.2</text>
<text class="v" x="486.25" y="37.612">-1.9</text>
<text class="v" x="506.50" y="37.602">-13.1</text>
<text class="v" x="526.75" y="37.592">-8.5</text>
<text class="v" x="547.00" y="37.582">-2.2</text>
<text class="v" x="567.25" y="37.572">-6.5</text>
<text class="v" x="587.50" y="37.562">-14.2</text>
<text class="v" x="607.75" y="37.552">0.7</text>
<text class="v" x="628.00" y="37.542">-3.8</text>
<text class="v" x="648.25" y="37.531">-10.5</text>
<text class="v w" x="61.00" y="57.445">6.3</text>
<text class="v" x="81.25" y="57.435">-3.7</text>
<text class="v" x="101.50" y="57.425">3.9</text>
<text class="v w" x="142.00" y="57.405">5.2</text>
<text class="v" x="162.25" y="57.394">-12.9</text>
<text class="v" x="182.50" y="57.384">-9</text>
<text class="v" x="202.75" y="57.374">-9.2</text>
<text class="v" x="223.00" y="57.364">-3.5</text>
<text class="v w" x="243.25" y="57.354">7.4</text>
<text class="v" x="263.50" y="57.344">-7.7</text>
<text class="v" x="283.75" y="57.334">0.3</text>
<text class="v w" x="324.25" y="57.313">8.3</text>
<text class="v" x="344.50" y="57.303">3.1</text>
<text class="v w" x="385.00" y="57.283">8.1</text>
<text class="v" x="405.25" y="57.273">-6.3</text>
<text class="v" x="425.50" y="57.263">1.7</text>
<text class="v" x="445.75" y="57.253">-6.6</text>
<text class="v" x="466.00" y="57.243">0.5</text>
<text class="v" x="486.25" y="57.232">-5.2</text>
<text class="v" x="506.50" y="57.222">-0.2</text>
<text class="v" x="526.75" y="57.212">0.8</text>
<text class="v" x="547.00" y="57.202">-7.9</text>
<text class="v" x="567.25" y="57.192">1.1</text>
<text class="v" x="587.50" y="57.182">0.4</text>
<text class="v" x="81.25" y="77.055">0.5</text>
<text class="v" x="101.50" y="77.045">3</text>
<text class="v" x="121.75" y="77.035">-3.4</text>
<text class="v" x="142.00" y="77.025">-4.5</text>
<text class="v" x="182.50" y="77.004">-2.8</text>
<text class="v" x="202.75" y="76.994">-3.6</text>
<text class="v" x="223.00" y="76.984">-2.2</text>
<text class="v" x="263.50" y="76.964">0.8</text>
<text class="v" x="283.75" y="76.954">-0.4</text>
<text class="v w" x="304.00" y="76.944">7.9</text>
<text class="v" x="324.25" y="76.933">0.6</text>
<text class="v" x="344.50" y="76.923">-3</text>
<text class="v" x="385.00" y="76.903">-11.3</text>
<text class="v" x="425.50" y="76.883">4.3</text>
<text class="v" x="445.75" y="76.873">-10.4</text>
<text class="v" x="486.25" y="76.852">-5.6</text>
<text class="v" x="506.50" y="76.842">3.3</text>
<text class="v" x="587.50" y="76.802">-0.6</text>
<text class="v" x="607.75" y="76.792">-1.8</text>
<text class="v w" x="628.00" y="76.782">5.1</text>
<text class="v w" x="61.00" y="96.685">8</text>
<text class="v" x="81.25" y="96.675">1</text>
<text class="v" x="101.50" y="96.665">1.8</text>
<text class="v" x="162.25" y="96.634">-1.8</text>
<text class="v w" x="182.50" y="96.624">8</text>
<text class="v" x="223.00" y="96.604">3.2</text>
<text class="v" x="263.50" y="96.584">-1.9</text>
<text class="v" x="283.75" y="96.574">-6.1</text>
<text class="v" x="324.25" y="96.553">1</text>
<text class="v" x="344.50" y="96.543">-4.9</text>
<text class="v" x="425.50" y="96.503">-7.2</text>
<text class="v" x="445.75" y="96.493">-0.2</text>
<text class="v" x="466.00" y="96.483">0.4</text>
<text class="v" x="526.75" y="96.452">-0.4</text>
<text class="v w" x="567.25" y="96.432">6</text>
<text class="v" x="587.50" y="96.422">3</text>
<text class="v" x="628.00" y="96.402">2.3</text>
<text class="v" x="61.00" y="116.305">-0.1</text>
<text class="v" x="81.25" y="116.295">-7</text>
<text class="v" x="101.50" y="116.285">-10.2</text>
<text class="v" x="121.75" y="116.275">0.7</text>
<text class="v w" x="162.25" y="116.254">9.4</text>
<text class="v" x="202.75" y="116.234">-6.4</text>
<text class="v" x="223.00" y="116.224">4.6</text>
<text class="v" x="243.25" y="116.214">-6.1</text>
<text class="v" x="263.50" y="116.204">1.3</text>
<text class="v" x="283.75" y="116.194">-14.5</text>
<text class="v w" x="304.00" y="116.184">7.2</text>
<text class="v w" x="324.25" y="116.173">7.8</text>
<text class="v" x="344.50" y="116.163">-4.6</text>
<text class="v" x="364.75" y="116.153">-2</text>
<text class="v" x="445.75" y="116.113">-3.5</text>
<text class="v w" x="486.25" y="116.092">5.1</text>
<text class="v" x="526.75" y="116.072">-2.8</text>
<text class="v" x="587.50" y="116.042">-5.6</text>
<text class="v" x="61.00" y="135.925">-0.2</text>
<text class="v w" x="101.50" y="135.905">12</text>
<text class="v" x="121.75" y="135.895">2.1</text>
<text class="v" x="162.25" y="135.874">2.8</text>
<text class="v" x="182.50" y="135.864">3</text>
<text class="v" x="243.25" y="135.834">-3</text>
<text class="v" x="263.50" y="135.824">-1.8</text>
<text class="v w" x="283.75" y="135.814">11.5</text>
<text class="v" x="304.00" y="135.804">-0.8</text>
<text class="v w" x="364.75" y="135.773">6.9</text>
<text class="v" x="425.50" y="135.743">-4.2</text>
<text class="v" x="506.50" y="135.702">-6.6</text>
<text class="v w" x="547.00" y="135.682">6.6</text>
<text class="v" x="587.50" y="135.662">3.9</text>
<text class="v" x="81.25" y="155.535">-2.3</text>
<text class="v" x="101.50" y="155.525">-3</text>
<text class="v" x="121.75" y="155.515">2</text>
<text class="v" x="142.00" y="155.505">-4</text>
<text class="v" x="162.25" y="155.494">0.7</text>
<text class="v" x="182.50" y="155.484">-4.2</text>
<text class="v" x="202.75" y="155.474">3.3</text>
<text class="v" x="223.00" y="155.464">1.3</text>
<text class="v w" x="243.25" y="155.454">6.2</text>
<text class="v" x="263.50" y="155.444">-2.5</text>
<text class="v" x="283.75" y="155.434">-0.1</text>
<text class="v" x="304.00" y="155.424">-2.5</text>
<text class="v w" x="344.50" y="155.403">9.8</text>
<text class="v" x="385.00" y="155.383">2.2</text>
<text class="v" x="445.75" y="155.353">2.2</text>
<text class="v" x="466.00" y="155.343">-6.7</text>
<text class="v" x="486.25" y="155.332">-4.9</text>
<text class="v" x="506.50" y="155.322">1</text>
<text class="v" x="526.75" y="155.312">2.1</text>
<text class="v" x="547.00" y="155.302">2.5</text>
<text class="v w" x="587.50" y="155.282">15.9</text>
<text class="v w" x="61.00" y="175.165">5.2</text>
<text class="v" x="101.50" y="175.145">-0.4</text>
<text class="v" x="162.25" y="175.114">4</text>
<text class="v" x="182.50" y="175.104">-1.8</text>
<text class="v" x="202.75" y="175.094">-8.8</text>
<text class="v" x="223.00" y="175.084">-3.9</text>
<text class="v" x="243.25" y="175.074">0</text>
<text class="v" x="283.75" y="175.054">-0.3</text>
<text class="v" x="344.50" y="175.023">-2.9</text>
<text class="v" x="445.75" y="174.973">-1.4</text>
<text class="v w" x="61.00" y="194.785">5.6</text>
<text class="v" x="101.50" y="194.765">4.9</text>
<text class="v" x="121.75" y="194.755">1</text>
<text class="v" x="142.00" y="194.745">3.8</text>
<text class="v" x="182.50" y="194.724">-8.9</text>
<text class="v" x="223.00" y="194.704">3.1</text>
<text class="v" x="283.75" y="194.674">5</text>
<text class="v" x="304.00" y="194.664">0.8</text>
<text class="v" x="324.25" y="194.653">4.2</text>
<text class="v w" x="344.50" y="194.643">12.2</text>
<text class="v" x="364.75" y="194.633">-7</text>
<text class="v w" x="425.50" y="194.603">7.2</text>
<text class="v w" x="526.75" y="194.552">7.4</text>
<text class="v" x="628.00" y="194.502">-5.5</text>
<text class="v" x="61.00" y="214.405">-5.7</text>
<text class="v" x="101.50" y="214.385">2.6</text>
<text class="v" x="142.00" y="214.365">-3.2</text>
<text class="v" x="202.75" y="214.334">-6.2</text>
<text class="v" x="223.00" y="214.324">0.7</text>
<text class="v w" x="243.25" y="214.314">11.3</text>
<text class="v" x="304.00" y="214.284">-7.6</text>
<text class="v" x="324.25" y="214.273">2.1</text>
<text class="v" x="405.25" y="214.233">-1.8</text>
<text class="v" x="425.50" y="214.223">-10.2</text>
<text class="v" x="61.00" y="234.025">2.1</text>
<text class="v" x="101.50" y="234.005">2.9</text>
<text class="v" x="142.00" y="233.985">-5</text>
<text class="v" x="182.50" y="233.964">4.6</text>
<text class="v" x="223.00" y="233.944">-2.5</text>
<text class="v" x="364.75" y="233.873">-5</text>
<text class="v w" x="385.00" y="233.863">9.2</text>
<text class="v" x="425.50" y="233.843">2.8</text>
<text class="v w" x="567.25" y="233.772">7.3</text>
<text class="v" x="607.75" y="233.752">-4.3</text>
<text class="v" x="61.00" y="253.645">4.9</text>
<text class="v" x="121.75" y="253.615">-1.2</text>
<text class="v" x="142.00" y="253.605">-6.5</text>
<text class="v" x="162.25" y="253.594">2.7</text>
<text class="v" x="182.50" y="253.584">-3.3</text>
<text class="v" x="223.00" y="253.564">-1.8</text>
<text class="v w" x="243.25" y="253.554">6.8</text>
<text class="v" x="344.50" y="253.503">-1.1</text>
<text class="v" x="405.25" y="253.473">-6.1</text>
<text class="v w" x="526.75" y="253.412">7.4</text>
<text class="v w" x="547.00" y="253.402">8.9</text>
<text class="v" x="567.25" y="253.392">-0.4</text>
<text class="v w" x="81.25" y="273.255">10.7</text>
<text class="v" x="101.50" y="273.245">-6.9</text>
<text class="v w" x="121.75" y="273.235">16.7</text>
<text class="v" x="142.00" y="273.225">3.3</text>
<text class="v" x="283.75" y="273.154">4.1</text>
<text class="v" x="81.25" y="292.875">-2.8</text>
<text class="v" x="202.75" y="292.814">4.5</text>
<text class="v" x="263.50" y="292.784">-1.3</text>
<text class="v" x="466.00" y="292.683">1</text>
<text class="v" x="526.75" y="292.652">-0.3</text>
<text class="v w" x="121.75" y="312.475">6.5</text>
<text class="v" x="61.00" y="332.125">-2.4</text>
<text class="v" x="223.00" y="332.044">-2.5</text>
<text class="v w" x="61.00" y="351.745">9.2</text>
<text class="v" x="101.50" y="351.725">-0.6</text>
</g>
</svg>
</body></html>
